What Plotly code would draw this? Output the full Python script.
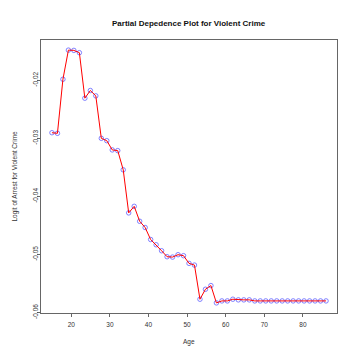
import plotly.graph_objects as go

age_min = 15.0
age_step = 1.42
n_points = 51
ages = [age_min + age_step * i for i in range(n_points)]

logit = [
    -0.02904, -0.02914, -0.01983, -0.01481, -0.01486, -0.01525, -0.02309, -0.02177,
    -0.02269, -0.03000, -0.03041, -0.03200, -0.03212, -0.03543, -0.04285, -0.04172,
    -0.04429, -0.04537, -0.04743, -0.04834, -0.04937, -0.05040, -0.05046, -0.05005,
    -0.05022, -0.05154, -0.05184, -0.05772, -0.05600, -0.05537, -0.05835, -0.05801,
    -0.05801, -0.05772, -0.05783, -0.05783, -0.05783, -0.05801, -0.05801, -0.05801,
    -0.05801, -0.05801, -0.05801, -0.05801, -0.05801, -0.05801, -0.05801, -0.05801,
    -0.05801, -0.05801, -0.05801,
]

x_ticks = [20, 30, 40, 50, 60, 70, 80]
y_ticks = [-0.06, -0.05, -0.04, -0.03, -0.02]
y_tick_labels = ["-0.06", "-0.05", "-0.04", "-0.03", "-0.02"]

title_text = "Partial Depedence Plot for Violent Crime"
x_label = "Age"
y_label = "Logit of Arrest for Violent Crime"

font_family = "Liberation Sans, Arial, Helvetica, sans-serif"

fig = go.Figure()
fig.add_trace(go.Scatter(
    x=ages, y=logit, mode="markers",
    marker=dict(symbol="circle-open", size=4.5, color="rgba(90,90,255,0.75)", line=dict(width=1)),
    showlegend=False, hoverinfo="skip",
))
fig.add_trace(go.Scatter(
    x=ages, y=logit, mode="lines",
    line=dict(color="#ff0000", width=1),
    showlegend=False,
))

xr = [min(ages), max(ages)]
yr = [min(logit), max(logit)]
dx = (xr[1] - xr[0]) * 0.04
dy = (yr[1] - yr[0]) * 0.04

axis_common = dict(
    showgrid=False, zeroline=False, showline=True, linecolor="#666666", linewidth=1,
    mirror=True, ticks="outside", ticklen=3, tickwidth=1, tickcolor="#666666",
    tickfont=dict(family=font_family, size=6.5, color="#333333"),
)

fig.update_layout(
    width=346, height=346,
    margin=dict(l=33, r=17, t=32, b=41),
    paper_bgcolor="white", plot_bgcolor="white",
    font=dict(family=font_family, color="#333333"),
    xaxis=dict(range=[xr[0] - dx, xr[1] + dx], tickvals=x_ticks, ticklabelstandoff=2, **axis_common),
    yaxis=dict(range=[yr[0] - dy, yr[1] + dy], tickvals=y_ticks, ticktext=y_tick_labels,
               tickangle=-90, ticklabelstandoff=-4, **axis_common),
    annotations=[
        dict(text="<b>" + title_text + "</b>", xref="paper", yref="paper",
             x=0.5, y=(305 - 15) / 273, xanchor="center", yanchor="middle",
             showarrow=False, font=dict(family=font_family, size=8, color="#111111")),
        dict(text=x_label, xref="paper", yref="paper",
             x=0.5, y=(305 - 334) / 273, xanchor="center", yanchor="middle",
             showarrow=False, font=dict(family=font_family, size=6.5, color="#333333")),
        dict(text=y_label, xref="paper", yref="paper",
             x=(6 - 33) / 296, y=0.5, xanchor="center", yanchor="middle", textangle=-90,
             showarrow=False, font=dict(family=font_family, size=6.5, color="#333333")),
    ],
)

fig.write_html("out.html")
